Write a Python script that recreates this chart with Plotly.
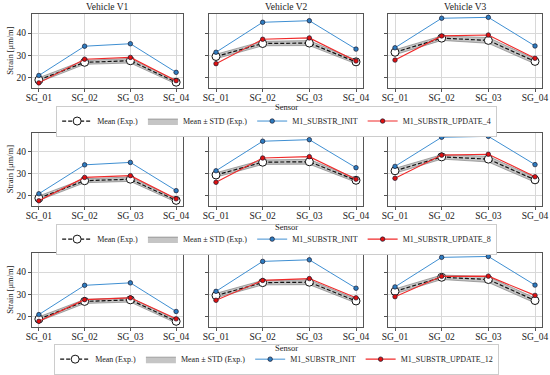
import plotly.graph_objects as go
from plotly.subplots import make_subplots

sensors = ["SG_01", "SG_02", "SG_03", "SG_04"]
vehicle_titles = ["Vehicle V1", "Vehicle V2", "Vehicle V3"]
update_names = ["M1_SUBSTR_UPDATE_4", "M1_SUBSTR_UPDATE_8", "M1_SUBSTR_UPDATE_12"]
y_ticks = [20, 30, 40]
x_label = "Sensor"
y_label = "Strain [μm/m]"

exp_mean_v1 = [19.0, 26.9, 27.6, 18.0]
exp_mean_v2 = [29.5, 35.3, 35.5, 27.1]
exp_mean_v3 = [31.4, 37.7, 36.7, 27.3]
exp_std_v1 = [1.0, 0.9, 1.0, 0.8]
exp_std_v2 = [1.0, 1.0, 1.1, 0.9]
exp_std_v3 = [1.1, 1.0, 1.3, 1.1]

init_v1 = [21.0, 34.1, 35.2, 22.4]
init_v2 = [31.4, 44.8, 45.5, 32.8]
init_v3 = [33.4, 46.6, 47.0, 34.2]

upd4_v1 = [17.7, 28.3, 29.1, 18.7]
upd4_v2 = [26.3, 37.2, 37.8, 27.5]
upd4_v3 = [27.9, 38.7, 39.1, 28.7]

upd8_v1 = [17.8, 28.4, 29.2, 18.7]
upd8_v2 = [26.2, 37.2, 37.8, 27.6]
upd8_v3 = [28.0, 38.5, 38.9, 28.7]

upd12_v1 = [18.0, 27.7, 28.5, 19.1]
upd12_v2 = [27.4, 36.3, 37.1, 28.5]
upd12_v3 = [29.0, 38.1, 38.2, 29.6]

exp_means = [exp_mean_v1, exp_mean_v2, exp_mean_v3]
exp_stds = [exp_std_v1, exp_std_v2, exp_std_v3]
inits = [init_v1, init_v2, init_v3]
updates = [[upd4_v1, upd4_v2, upd4_v3],
           [upd8_v1, upd8_v2, upd8_v3],
           [upd12_v1, upd12_v2, upd12_v3]]

FONT = "Liberation Serif"
TXT = "#222222"
BLUE_LINE = "#3f8fd2"
BLUE_MK = "#2e7cc0"
RED = "#f02a2a"
EDGE = "#1a1a2e"

fig = make_subplots(rows=3, cols=3)

W, H = 550, 375
col_dom = [[32/W, 183/W], [209/W, 363/W], [388/W, 542/W]]
row_dom = [[1-89/H, 1-14/H], [1-209/H, 1-135/H], [1-332/H, 1-257/H]]
legend_y = [1-123/H, 1-243/H, 1-365/H]
sensor_y = [1-108.5/H, 1-230.5/H, 1-353.5/H]
legend_keys = ["legend", "legend2", "legend3"]

x = list(range(len(sensors)))

for r in range(3):
    lg = legend_keys[r]
    for c in range(3):
        show = (c == 0)
        m = exp_means[c]
        s = exp_stds[c]
        lo = [a - b for a, b in zip(m, s)]
        hi = [a + b for a, b in zip(m, s)]
        fig.add_trace(go.Scatter(x=x, y=lo, mode="lines",
                                 line=dict(color="rgba(110,110,110,0.7)", width=0.8),
                                 showlegend=False, hoverinfo="skip", legend=lg),
                      row=r+1, col=c+1)
        fig.add_trace(go.Scatter(x=x, y=hi, mode="lines", fill="tonexty",
                                 fillcolor="rgba(150,150,150,0.55)",
                                 line=dict(color="rgba(110,110,110,0.7)", width=0.8),
                                 name="Mean ± STD (Exp.)", showlegend=show,
                                 legend=lg, legendrank=2),
                      row=r+1, col=c+1)
        fig.add_trace(go.Scatter(x=x, y=m, mode="lines+markers",
                                 line=dict(color="#111111", width=1.2, dash="4px,2px"),
                                 marker=dict(size=8, color="white",
                                             line=dict(color="#111111", width=1)),
                                 name="Mean (Exp.)", showlegend=show,
                                 legend=lg, legendrank=1),
                      row=r+1, col=c+1)
        fig.add_trace(go.Scatter(x=x, y=inits[c], mode="lines+markers",
                                 line=dict(color=BLUE_LINE, width=1),
                                 marker=dict(size=4.5, color=BLUE_MK,
                                             line=dict(color=EDGE, width=0.7)),
                                 name="M1_SUBSTR_INIT", showlegend=show,
                                 legend=lg, legendrank=3),
                      row=r+1, col=c+1)
        fig.add_trace(go.Scatter(x=x, y=updates[r][c], mode="lines+markers",
                                 line=dict(color=RED, width=1.1),
                                 marker=dict(size=4.5, color="#e01010",
                                             line=dict(color=EDGE, width=0.7)),
                                 name=update_names[r], showlegend=show,
                                 legend=lg, legendrank=4),
                      row=r+1, col=c+1)

        idx = r*3 + c + 1
        xa = "xaxis" if idx == 1 else f"xaxis{idx}"
        ya = "yaxis" if idx == 1 else f"yaxis{idx}"
        fig.layout[xa].update(
            domain=col_dom[c], range=[-0.15, 3.15], automargin=False,
            tickvals=x, ticktext=sensors,
            showgrid=True, gridcolor="#d8d8d8", gridwidth=1,
            showline=True, linecolor="#555555", linewidth=1, mirror=True,
            ticks="outside", ticklen=3, tickcolor="#555555",
            ticklabelstandoff=-2,
            tickfont=dict(family=FONT, size=9.5, color=TXT),
            zeroline=False,
        )
        fig.layout[ya].update(
            domain=row_dom[r], range=[15.6, 48.6], automargin=False,
            tickvals=y_ticks, showticklabels=(c == 0),
            showgrid=True, gridcolor="#d8d8d8", gridwidth=1,
            showline=True, linecolor="#555555", linewidth=1, mirror=True,
            ticks="outside", ticklen=3, tickcolor="#555555",
            tickfont=dict(family=FONT, size=9.5, color=TXT),
            zeroline=False,
        )

for c in range(3):
    fig.add_annotation(text=vehicle_titles[c], xref="paper", yref="paper",
                       x=sum(col_dom[c]) / 2, y=1 - 7/H,
                       xanchor="center", yanchor="middle", showarrow=False,
                       font=dict(family=FONT, size=9.5, color=TXT))

for r in range(3):
    fig.add_annotation(text=x_label, xref="paper", yref="paper",
                       x=sum(col_dom[1]) / 2, y=sensor_y[r],
                       xanchor="center", yanchor="middle", showarrow=False,
                       font=dict(family=FONT, size=8.5, color=TXT))
    fig.add_annotation(text=y_label, xref="paper", yref="paper",
                       x=10/W, y=sum(row_dom[r]) / 2, textangle=-90,
                       xanchor="center", yanchor="middle", showarrow=False,
                       font=dict(family=FONT, size=8.5, color=TXT))
    fig.layout[legend_keys[r]] = dict(
        orientation="h", x=0.503, y=legend_y[r], xanchor="center", yanchor="middle",
        bgcolor="white", bordercolor="#cccccc", borderwidth=1,
        font=dict(family=FONT, size=8, color=TXT),
        itemwidth=30, tracegroupgap=0, traceorder="normal",
    )

fig.update_layout(width=W, height=H, margin=dict(l=0, r=0, t=0, b=0),
                  paper_bgcolor="white", plot_bgcolor="white",
                  font=dict(family=FONT), hovermode=False)

fig.write_html("out.html", config={"displayModeBar": False},
               post_script="document.body.style.margin='0';"
                           "document.body.style.overflow='hidden';")
